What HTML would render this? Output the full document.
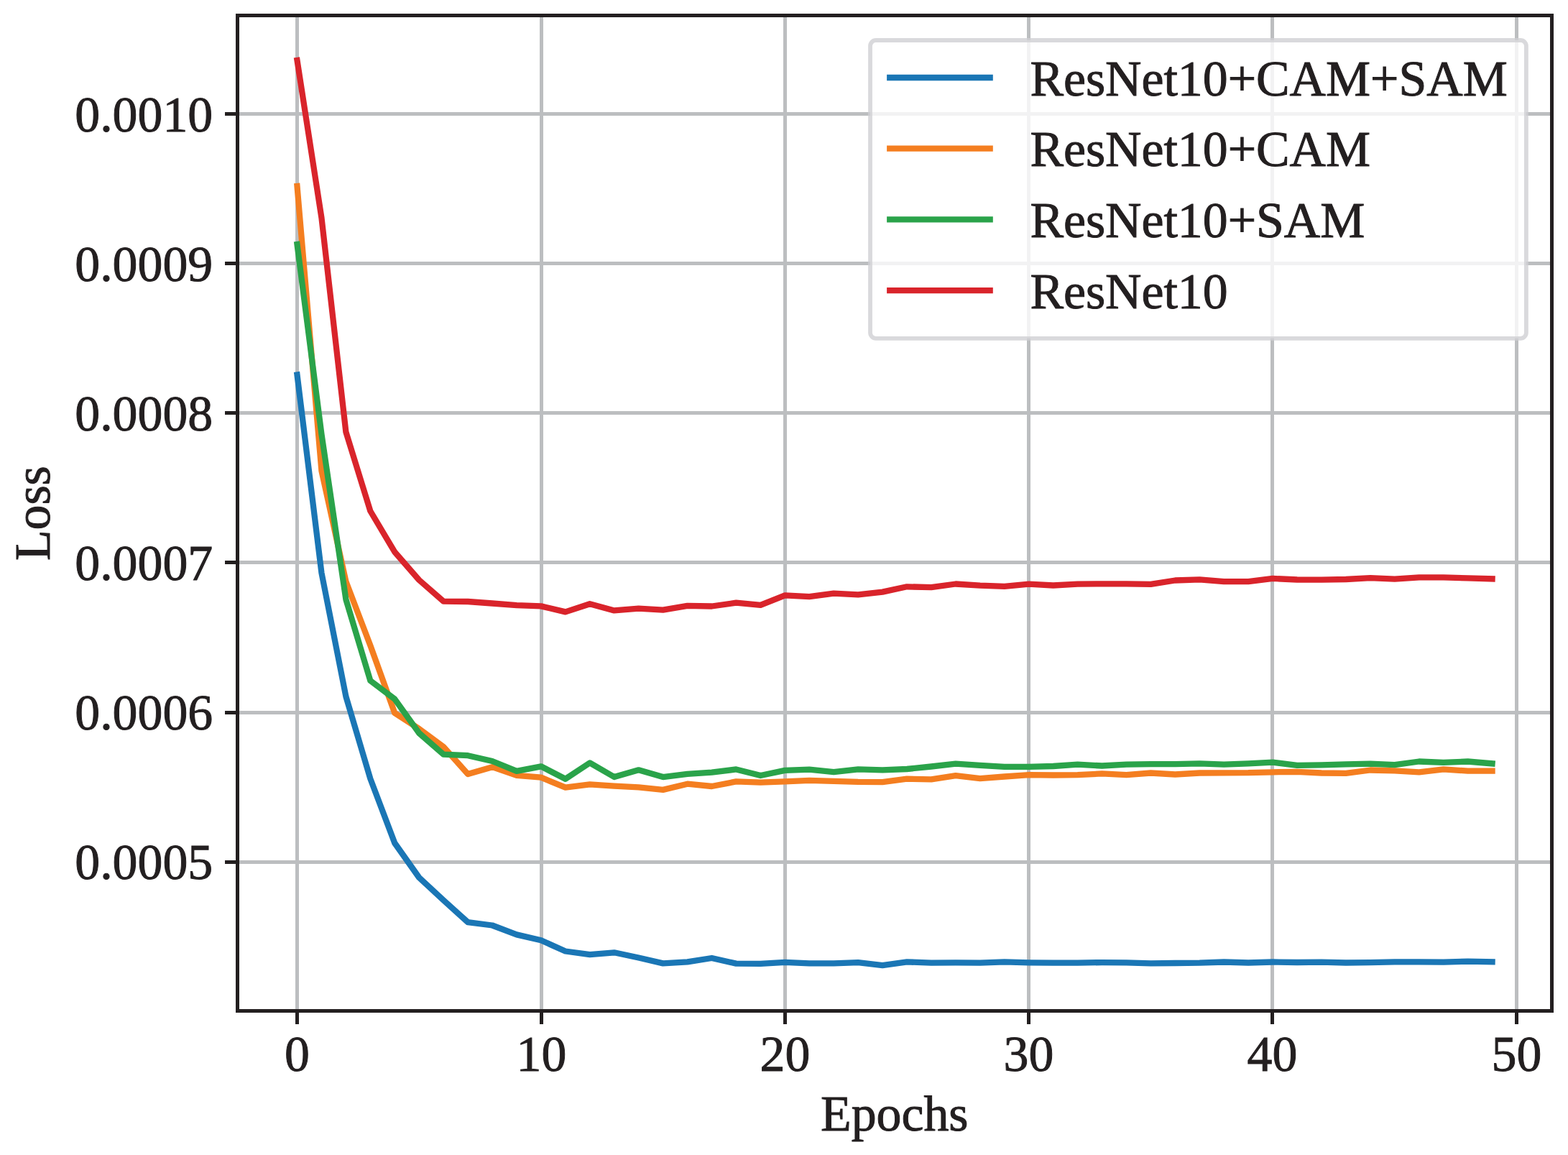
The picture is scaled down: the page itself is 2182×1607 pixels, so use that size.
<!DOCTYPE html>
<html><head><meta charset="utf-8"><title>Loss vs Epochs</title>
<style>
html,body{margin:0;padding:0;background:#fff;}
svg{display:block;}
text{font-family:"Liberation Serif","Times New Roman",serif;fill:#231f20;stroke:#231f20;stroke-width:1px;}
</style></head><body>
<svg width="2182" height="1607" viewBox="0 0 2182 1607">
<rect x="0" y="0" width="2182" height="1607" fill="#ffffff"/>
<defs><clipPath id="ax"><rect x="330.5" y="21.5" width="1829.0" height="1385.0"/></clipPath></defs>
<g stroke="#bcbec0" stroke-width="5" fill="none">
<line x1="413.50" y1="21.5" x2="413.50" y2="1406.5"/>
<line x1="753.50" y1="21.5" x2="753.50" y2="1406.5"/>
<line x1="1092.50" y1="21.5" x2="1092.50" y2="1406.5"/>
<line x1="1431.50" y1="21.5" x2="1431.50" y2="1406.5"/>
<line x1="1770.50" y1="21.5" x2="1770.50" y2="1406.5"/>
<line x1="2110.50" y1="21.5" x2="2110.50" y2="1406.5"/>
<line x1="330.5" y1="158.5" x2="2159.5" y2="158.5"/>
<line x1="330.5" y1="366.5" x2="2159.5" y2="366.5"/>
<line x1="330.5" y1="574.5" x2="2159.5" y2="574.5"/>
<line x1="330.5" y1="782.5" x2="2159.5" y2="782.5"/>
<line x1="330.5" y1="991.5" x2="2159.5" y2="991.5"/>
<line x1="330.5" y1="1199.5" x2="2159.5" y2="1199.5"/>
</g>
<g clip-path="url(#ax)" fill="none" stroke-width="8.3" stroke-linecap="square" stroke-linejoin="round">
<polyline stroke="#1a76b5" points="413.50,521.50 447.44,797.00 481.38,969.00 515.32,1083.40 549.26,1173.00 583.20,1221.00 617.14,1252.50 651.08,1283.20 685.02,1287.50 718.96,1300.40 752.90,1308.30 786.84,1323.50 820.78,1328.10 854.72,1325.30 888.66,1332.50 922.60,1340.40 956.54,1338.40 990.48,1333.00 1024.42,1340.60 1058.36,1340.80 1092.30,1338.90 1126.24,1340.40 1160.18,1340.40 1194.12,1339.10 1228.06,1343.20 1262.00,1338.40 1295.94,1339.60 1329.88,1339.40 1363.82,1339.60 1397.76,1338.40 1431.70,1339.30 1465.64,1339.60 1499.58,1339.60 1533.52,1339.10 1567.46,1339.30 1601.40,1340.40 1635.34,1340.00 1669.28,1339.70 1703.22,1338.50 1737.16,1339.50 1771.10,1338.50 1805.04,1339.00 1838.98,1338.70 1872.92,1339.50 1906.86,1339.10 1940.80,1338.30 1974.74,1338.30 2008.68,1338.60 2042.62,1337.60 2076.56,1338.30"/>
<polyline stroke="#f47e20" points="413.50,259.00 447.44,655.00 481.38,809.00 515.32,898.00 549.26,992.00 583.20,1014.00 617.14,1039.00 651.08,1077.00 685.02,1067.20 718.96,1078.90 752.90,1081.70 786.84,1095.70 820.78,1091.40 854.72,1093.70 888.66,1095.40 922.60,1098.90 956.54,1090.70 990.48,1094.00 1024.42,1087.40 1058.36,1088.70 1092.30,1087.40 1126.24,1085.80 1160.18,1086.90 1194.12,1087.90 1228.06,1088.10 1262.00,1083.70 1295.94,1084.40 1329.88,1079.20 1363.82,1083.10 1397.76,1080.50 1431.70,1078.20 1465.64,1078.50 1499.58,1078.20 1533.52,1076.40 1567.46,1078.20 1601.40,1075.50 1635.34,1077.50 1669.28,1075.50 1703.22,1075.30 1737.16,1075.20 1771.10,1074.30 1805.04,1073.90 1838.98,1075.50 1872.92,1075.80 1906.86,1071.50 1940.80,1072.30 1974.74,1074.30 2008.68,1070.30 2042.62,1072.70 2076.56,1072.60"/>
<polyline stroke="#2aa34a" points="413.50,340.00 447.44,604.00 481.38,834.00 515.32,947.00 549.26,972.60 583.20,1020.00 617.14,1049.60 651.08,1051.20 685.02,1059.00 718.96,1072.80 752.90,1066.30 786.84,1083.70 820.78,1061.40 854.72,1081.00 888.66,1071.30 922.60,1081.10 956.54,1076.90 990.48,1074.70 1024.42,1070.40 1058.36,1079.00 1092.30,1071.90 1126.24,1070.60 1160.18,1074.10 1194.12,1070.40 1228.06,1071.40 1262.00,1070.00 1295.94,1066.50 1329.88,1062.70 1363.82,1064.80 1397.76,1066.80 1431.70,1066.80 1465.64,1066.00 1499.58,1063.70 1533.52,1065.50 1567.46,1063.70 1601.40,1063.10 1635.34,1063.20 1669.28,1062.40 1703.22,1063.70 1737.16,1062.40 1771.10,1060.60 1805.04,1064.80 1838.98,1064.40 1872.92,1063.40 1906.86,1062.70 1940.80,1064.20 1974.74,1059.50 2008.68,1060.90 2042.62,1059.50 2076.56,1062.40"/>
<polyline stroke="#d9242b" points="413.50,84.00 447.44,303.00 481.38,601.00 515.32,711.00 549.26,768.00 583.20,807.00 617.14,836.70 651.08,837.00 685.02,839.50 718.96,842.20 752.90,843.40 786.84,851.40 820.78,840.20 854.72,849.40 888.66,846.60 922.60,848.60 956.54,842.80 990.48,843.50 1024.42,838.70 1058.36,841.80 1092.30,828.40 1126.24,830.20 1160.18,825.70 1194.12,827.40 1228.06,823.60 1262.00,816.30 1295.94,817.10 1329.88,812.50 1363.82,814.60 1397.76,815.80 1431.70,812.70 1465.64,814.50 1499.58,812.60 1533.52,812.40 1567.46,812.40 1601.40,812.90 1635.34,807.50 1669.28,806.30 1703.22,809.10 1737.16,809.10 1771.10,804.90 1805.04,806.50 1838.98,806.60 1872.92,806.00 1906.86,804.10 1940.80,805.70 1974.74,803.30 2008.68,803.30 2042.62,804.40 2076.56,805.40"/>
</g>
<rect x="330.5" y="21.5" width="1829.0" height="1385.0" fill="none" stroke="#231f20" stroke-width="5" stroke-linejoin="miter"/>
<g stroke="#231f20" stroke-width="5">
<line x1="413.50" y1="1406.5" x2="413.50" y2="1425"/>
<line x1="753.50" y1="1406.5" x2="753.50" y2="1425"/>
<line x1="1092.50" y1="1406.5" x2="1092.50" y2="1425"/>
<line x1="1431.50" y1="1406.5" x2="1431.50" y2="1425"/>
<line x1="1770.50" y1="1406.5" x2="1770.50" y2="1425"/>
<line x1="2110.50" y1="1406.5" x2="2110.50" y2="1425"/>
<line x1="313" y1="158.5" x2="330.5" y2="158.5"/>
<line x1="313" y1="366.5" x2="330.5" y2="366.5"/>
<line x1="313" y1="574.5" x2="330.5" y2="574.5"/>
<line x1="313" y1="782.5" x2="330.5" y2="782.5"/>
<line x1="313" y1="991.5" x2="330.5" y2="991.5"/>
<line x1="313" y1="1199.5" x2="330.5" y2="1199.5"/>
</g>
<g font-size="69.8">
<text transform="translate(413.50,1489.80) scale(1,1.0)" text-anchor="middle">0</text>
<text transform="translate(753.50,1489.80) scale(1,1.0)" text-anchor="middle">10</text>
<text transform="translate(1092.50,1489.80) scale(1,1.0)" text-anchor="middle">20</text>
<text transform="translate(1431.50,1489.80) scale(1,1.0)" text-anchor="middle">30</text>
<text transform="translate(1770.50,1489.80) scale(1,1.0)" text-anchor="middle">40</text>
<text transform="translate(2110.50,1489.80) scale(1,1.0)" text-anchor="middle">50</text>
<text transform="translate(296.20,183.10) scale(1,1.0)" text-anchor="end">0.0010</text>
<text transform="translate(296.20,391.10) scale(1,1.0)" text-anchor="end">0.0009</text>
<text transform="translate(296.20,599.10) scale(1,1.0)" text-anchor="end">0.0008</text>
<text transform="translate(296.20,807.10) scale(1,1.0)" text-anchor="end">0.0007</text>
<text transform="translate(296.20,1015.10) scale(1,1.0)" text-anchor="end">0.0006</text>
<text transform="translate(296.20,1223.10) scale(1,1.0)" text-anchor="end">0.0005</text>
<text transform="translate(1244.80,1572.80) scale(1,1.0)" text-anchor="middle">Epochs</text>
<text transform="translate(69.20,714.20) rotate(-90) scale(1,1.0)" text-anchor="middle">Loss</text>
</g>
<g font-size="69.8">
<rect x="1211" y="56" width="912.9" height="414.8" rx="8" ry="8" fill="#ffffff" fill-opacity="0.8" stroke="#cfd0d3" stroke-opacity="0.8" stroke-width="5.8"/>
<line x1="1234.1" y1="108.0" x2="1381.8" y2="108.0" stroke="#1a76b5" stroke-width="8.3"/>
<text transform="translate(1433.40,132.60) scale(1,1.0)">ResNet10+CAM+SAM</text>
<line x1="1234.1" y1="206.7" x2="1381.8" y2="206.7" stroke="#f47e20" stroke-width="8.3"/>
<text transform="translate(1433.40,231.30) scale(1,1.0)">ResNet10+CAM</text>
<line x1="1234.1" y1="305.4" x2="1381.8" y2="305.4" stroke="#2aa34a" stroke-width="8.3"/>
<text transform="translate(1433.40,330.00) scale(1,1.0)">ResNet10+SAM</text>
<line x1="1234.1" y1="404.1" x2="1381.8" y2="404.1" stroke="#d9242b" stroke-width="8.3"/>
<text transform="translate(1433.40,428.70) scale(1,1.0)">ResNet10</text>
</g>
</svg></body></html>
